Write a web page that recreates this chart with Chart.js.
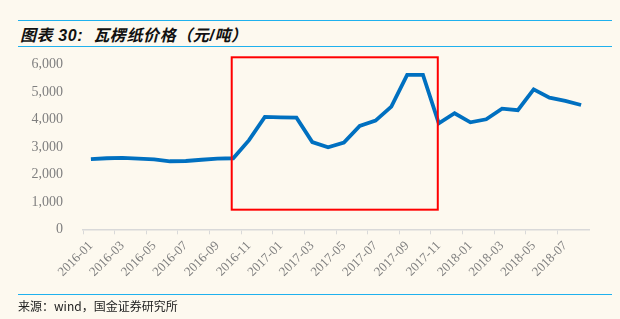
<!DOCTYPE html>
<html>
<head>
<meta charset="utf-8">
<script src="https://cdn.jsdelivr.net/npm/chart.js@4.4.1/dist/chart.umd.min.js"></script>
<style>
  html, body { margin: 0; padding: 0; background: #fdf9ef; }
  #page { position: relative; width: 620px; height: 319px; overflow: hidden; background: #fdf9ef; }
  .rule { position: absolute; left: 18px; width: 594px; height: 0; border-top: 1.5px solid #1fb1ee; }
  #title {
    position: absolute; left: 20px; top: 22px;
    font: italic bold 16px "Liberation Sans", "Noto Sans CJK SC", sans-serif;
    color: #111; white-space: pre; letter-spacing: 0.6px;
  }
  #source {
    position: absolute; left: 18px; top: 297px;
    font: 12px "Noto Sans CJK SC", sans-serif; color: #222; white-space: nowrap;
  }
  #wrap { position: absolute; left: 0; top: 0; width: 620px; height: 319px; }
</style>
</head>
<body>
<div id="page">
  <div class="rule" style="top:20px"></div>
  <div id="title">图表 30:  瓦楞纸价格（元/吨）</div>
  <div class="rule" style="top:45.5px"></div>
  <div id="wrap"><canvas id="chart"></canvas></div>
  <div class="rule" style="top:294px"></div>
  <div id="source">来源：wind，国金证券研究所</div>
</div>
<script>
// months 2016-01 .. 2018-08
const months = [
  '2016-01', '2016-02', '2016-03', '2016-04', '2016-05', '2016-06', '2016-07', '2016-08',
  '2016-09', '2016-10', '2016-11', '2016-12', '2017-01', '2017-02', '2017-03', '2017-04',
  '2017-05', '2017-06', '2017-07', '2017-08', '2017-09', '2017-10', '2017-11', '2017-12',
  '2018-01', '2018-02', '2018-03', '2018-04', '2018-05', '2018-06', '2018-07', '2018-08'
];

// 瓦楞纸价格 (元/吨)
const prices = [
  2560, 2590, 2600, 2575, 2550, 2480, 2490, 2535,
  2575, 2590, 3250, 4100, 4080, 4070, 3180, 2990,
  3160, 3770, 3960, 4470, 5630, 5630, 3860, 4230,
  3900, 4010, 4400, 4340, 5100, 4800, 4680, 4530
];

const yTicks = [0, 1000, 2000, 3000, 4000, 5000, 6000];

// highlighted period (red box), in category index / value units
const boxFrom = 9, boxTo = 22;
const boxTop = 6270, boxBottom = 715;

const highlightBox = {
  id: 'highlightBox',
  afterDatasetsDraw(chart) {
    const { ctx, scales: { x, y } } = chart;
    const left = x.getPixelForValue(boxFrom) - 1.5;
    const right = x.getPixelForValue(boxTo) - 1;
    const top = y.getPixelForValue(boxTop);
    const bottom = y.getPixelForValue(boxBottom);
    ctx.save();
    ctx.strokeStyle = '#ff0000';
    ctx.lineWidth = 2;
    ctx.strokeRect(left, top, right - left, bottom - top);
    ctx.restore();
  }
};

new Chart(document.getElementById('chart'), {
  type: 'line',
  data: {
    labels: months,
    datasets: [{
      data: prices,
      borderColor: '#0070c0',
      borderWidth: 3.8,
      pointRadius: 0,
      tension: 0,
      fill: false
    }]
  },
  options: {
    responsive: true,
    maintainAspectRatio: false,
    animation: false,
    layout: { padding: { left: 0, right: 31, top: 64.7, bottom: 0 } },
    plugins: { legend: { display: false }, tooltip: { enabled: false } },
    scales: {
      x: {
        offset: true,
        afterFit: (s) => { s.height = 89.7; },
        border: { display: true, color: '#d9d9d9', width: 1.5 },
        grid: {
          offset: true,
          drawOnChartArea: false,
          drawTicks: true,
          tickLength: 5,
          color: (c) => (c.index % 2 === 0 ? '#d9d9d9' : 'rgba(0,0,0,0)')
        },
        ticks: {
          autoSkip: false,
          minRotation: 45,
          maxRotation: 45,
          padding: 4,
          color: '#7f7f7f',
          font: { family: '"Liberation Serif", serif', size: 13 },
          callback: (v, i) => (i % 2 === 0 ? months[i] : '')
        }
      },
      y: {
        min: 0,
        max: 6000,
        afterFit: (s) => { s.width = 83; },
        afterBuildTicks: (s) => { s.ticks = yTicks.map((v) => ({ value: v })); },
        border: { display: false },
        grid: { display: false, drawTicks: false },
        ticks: {
          padding: 20,
          color: '#7f7f7f',
          font: { family: '"Liberation Serif", serif', size: 14 },
          callback: (v) => v.toLocaleString('en-US')
        }
      }
    }
  },
  plugins: [highlightBox]
});
</script>
</body>
</html>
